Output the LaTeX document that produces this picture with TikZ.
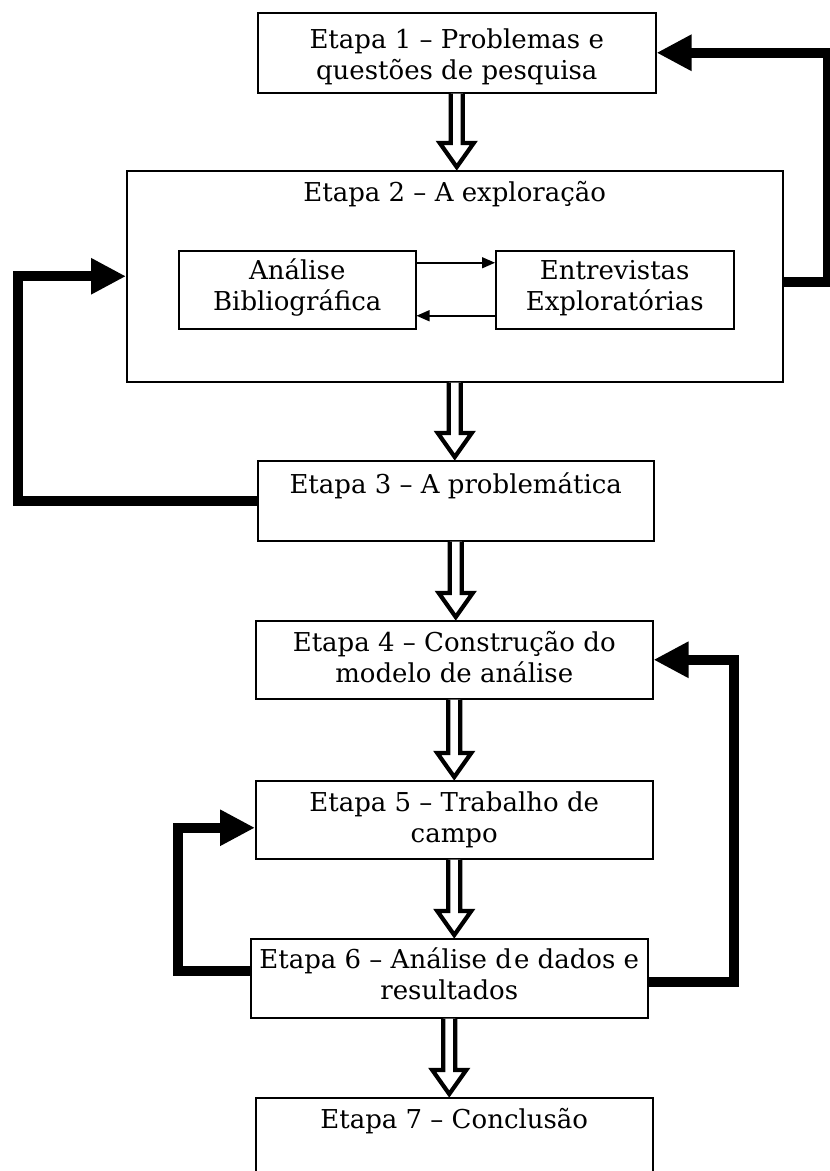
\documentclass[tikz,border=0pt]{standalone}
\usepackage{fontspec}
\setmainfont{DejaVu Serif}
\usetikzlibrary{arrows.meta,calc}
\begin{document}
\begin{tikzpicture}[x=1pt,y=-1pt,
  box/.style={draw, line width=1.5pt, anchor=north west, inner sep=0pt},
  txt/.style={anchor=base, align=center, inner sep=0pt, font=\fontsize{26}{31}\selectfont},
  fb/.style={line width=10pt, line join=miter, -{Triangle[length=35pt,width=34pt]}},
  thin/.style={line width=1.5pt, -{Triangle[length=13pt,width=11pt]}},
  hollowarr/.style={draw=black, fill=white, line width=4.2pt, line join=miter}
]
\useasboundingbox (0,0) rectangle (830,1171);
\newcommand\hollow[2]{%
  \draw[hollowarr] let \p1=(#1.south), \p2=(#2.north) in
   (\x1-6pt,\y1) -- (\x1-6pt,\y2+27pt) -- (\x1-17pt,\y2+27pt) -- (\x1,\y2+3pt)
   -- (\x1+17pt,\y2+27pt) -- (\x1+6pt,\y2+27pt) -- (\x1+6pt,\y1);}

% boxes
\node[box, minimum width=398pt, minimum height=80pt] (b1) at (257,12) {};
\node[box, minimum width=656pt, minimum height=211pt] (b2) at (126,170) {};
\node[box, minimum width=237pt, minimum height=78pt] (ba) at (178,250) {};
\node[box, minimum width=238pt, minimum height=78pt] (bb) at (495,250) {};
\node[box, minimum width=396pt, minimum height=80pt] (b3) at (257,460) {};
\node[box, minimum width=397pt, minimum height=78pt] (b4) at (255,620) {};
\node[box, minimum width=397pt, minimum height=78pt] (b5) at (255,780) {};
\node[box, minimum width=397pt, minimum height=79pt] (b6) at (250,938) {};
\node[box, minimum width=397pt, minimum height=120pt] (b7) at (255,1097) {};

% texts (anchor=base is the baseline of the last line)
\node[txt] (t1) at ([yshift=-67pt]b1.north) {Etapa 1 – Problemas e\\questões de pesquisa};
\node[txt] (t2) at ([yshift=-31pt]b2.north) {Etapa 2 – A exploração};
\node[txt] (ta) at ([yshift=-60pt]ba.north) {Análise\\Bibliográfica};
\node[txt] (tb) at ([yshift=-60pt]bb.north) {Entrevistas\\Exploratórias};
\node[txt] (t3) at ([yshift=-33pt]b3.north) {Etapa 3 – A problemática};
\node[txt] (t4) at ([yshift=-62pt]b4.north) {Etapa 4 – Construção do\\modelo de análise};
\node[txt] (t5) at ([yshift=-62pt]b5.north) {Etapa 5 – Trabalho de\\campo};
\node[txt] (t6) at ([yshift=-61pt]b6.north) {Etapa 6 – Análise d\kern2pt e dados e\\resultados};
\node[txt] (t7) at ([yshift=-31pt]b7.north) {Etapa 7 – Conclusão};

% hollow arrows
\hollow{b1}{b2}
\hollow{b2}{b3}
\hollow{b3}{b4}
\hollow{b4}{b5}
\hollow{b5}{b6}
\hollow{b6}{b7}

% inner arrows
\draw[thin] ([yshift=27pt]ba.east) -- ([yshift=27pt]bb.west);
\draw[thin] ([yshift=-26pt]bb.west) -- ([yshift=-26pt]ba.east);

% feedback arrows
\draw[fb] (b3.west) -| ([xshift=-108pt]b2.west) -- (b2.west);
\draw[fb] ([yshift=-6pt]b2.east) -| ([xshift=171pt]b1.east) -- (b1.east);
\draw[fb] ([yshift=7pt]b6.west) -| ([xshift=-77pt,yshift=-8pt]b5.west) -- ([yshift=-8pt]b5.west);
\draw[fb] ([yshift=-4pt]b6.east) -| ([xshift=80pt]b4.east) -- (b4.east);
\end{tikzpicture}
\end{document}
